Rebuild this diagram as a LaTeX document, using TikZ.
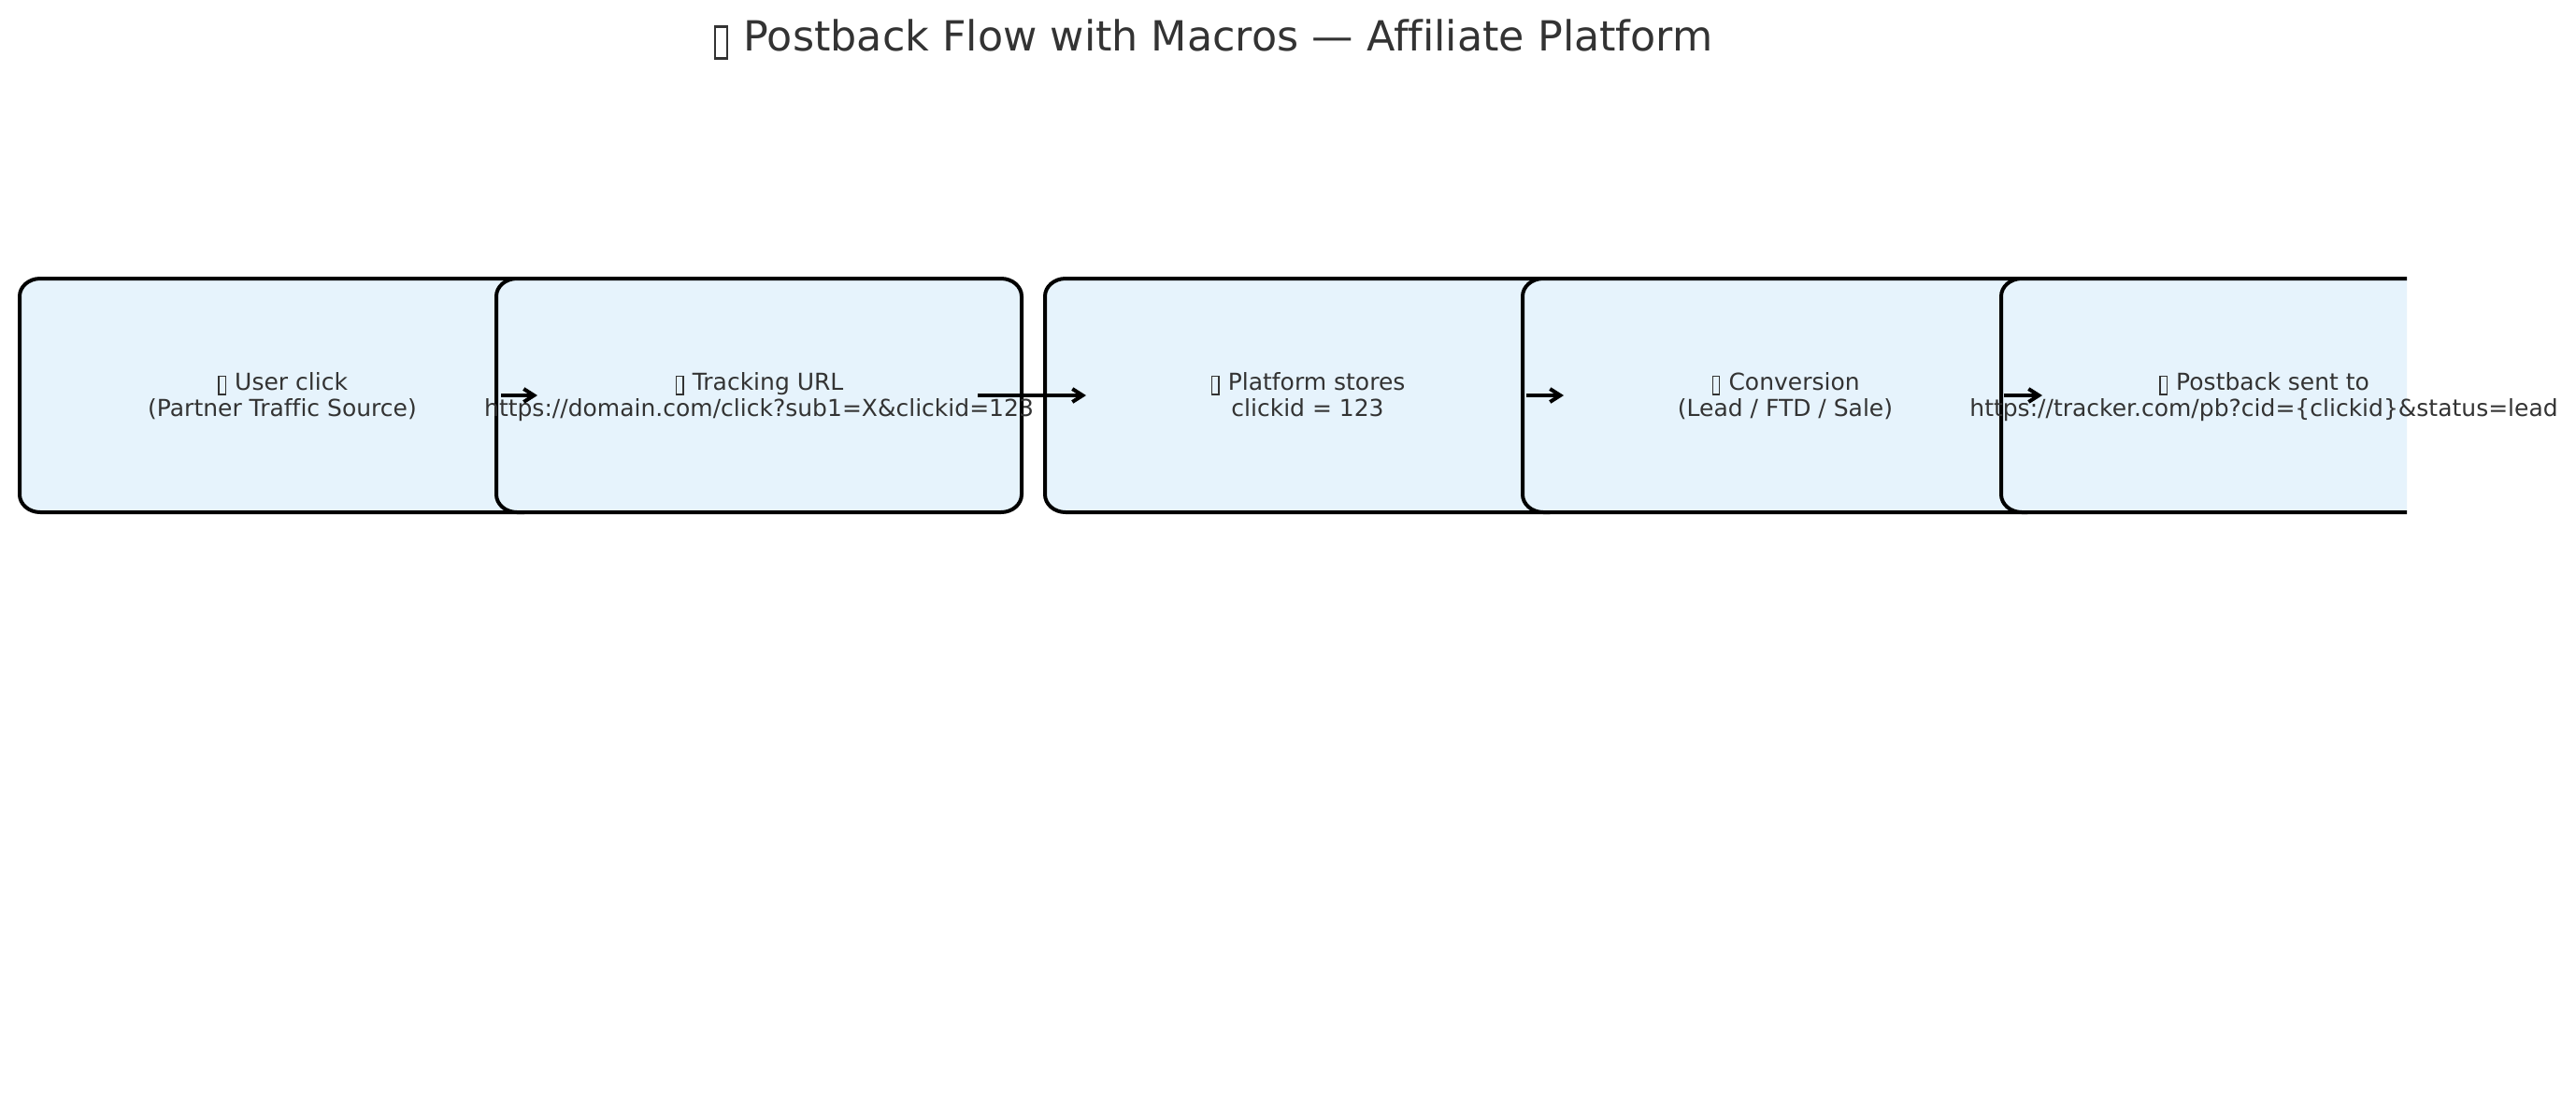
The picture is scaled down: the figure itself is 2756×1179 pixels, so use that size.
\documentclass[tikz,border=0pt]{standalone}
\usepackage{fontspec}
\setmainfont{DejaVu Sans}[Ligatures=NoCommon]
\usetikzlibrary{arrows.meta}
\definecolor{boxfill}{HTML}{E6F3FC}
\definecolor{txt}{HTML}{333333}
\newcommand{\tofu}{\kern0.05em\raisebox{-0.16em}{\setlength{\fboxsep}{0pt}\setlength{\fboxrule}{0.06em}\framebox[0.35em]{\rule{0pt}{0.71em}}}\kern0.05em}
\newcommand{\rbox}[1]{%
  \path[boxshape] ([xshift=22pt]#1.north west) -- ([xshift=-22pt]#1.north east)
    arc[start angle=90,end angle=0,x radius=22pt,y radius=19pt]
    -- ([yshift=19pt]#1.south east)
    arc[start angle=0,end angle=-90,x radius=22pt,y radius=19pt]
    -- ([xshift=22pt]#1.south west)
    arc[start angle=270,end angle=180,x radius=22pt,y radius=19pt]
    -- ([yshift=-19pt]#1.north west)
    arc[start angle=180,end angle=90,x radius=22pt,y radius=19pt] -- cycle;}
\tikzset{
  boxnode/.style={rectangle,minimum width=562pt,minimum height=250pt,inner sep=0pt,outer sep=0pt},
  boxshape/.style={draw=black,fill=boxfill,line width=4pt,line join=round},
  label text/.style={anchor=base,inner sep=0pt,align=center,text=txt,font=\fontsize{25pt}{28pt}\selectfont},
  title text/.style={anchor=base,inner sep=0pt,text=txt,font=\fontsize{44.4pt}{53pt}\selectfont},
  arr/.style={draw=black,line width=4pt,-{Straight Barb[length=11pt,width=14pt]}}
}
\begin{document}
\begin{tikzpicture}[x=1pt,y=1pt]
\fill[white] (0,0) rectangle (2756,-1179);
\useasboundingbox (0,0) rectangle (2756,-1179);

\node[title text] (title) at (1297,-54) {\tofu\ Postback Flow with Macros — Affiliate Platform};

\node[boxnode] (b1) at (302,-423) {};
\node[boxnode] (b2) at (812,-423) {};
\node[boxnode] (b3) at (1399,-423) {};
\node[boxnode] (b4) at (1910,-423) {};
\node[boxnode] (b5) at (2422,-423) {};

\rbox{b1}
\node[label text] (t1) at (302,-445) {\tofu\ User click\\(Partner Traffic Source)};
\rbox{b2}
\node[label text] (t2) at (812,-445) {\tofu\ Tracking URL\\https://domain.com/click?sub1=X\&clickid=123};
\rbox{b3}
\node[label text] (t3) at (1399,-445) {\tofu\ Platform stores\\clickid = 123};
\rbox{b4}
\node[label text] (t4) at (1910,-445) {\tofu\ Conversion\\(Lead / FTD / Sale)};
\begin{scope}
\clip (0,0) rectangle (2575,-1179);
\rbox{b5}
\end{scope}
\node[label text] (t5) at (2422,-445) {\tofu\ Postback sent to\\https://tracker.com/pb?cid=\{clickid\}\&status=lead};

\draw[arr] ([xshift=-47pt]b1.east) -- ([xshift=44pt]b2.west);
\draw[arr] ([xshift=-47pt]b2.east) -- ([xshift=44pt]b3.west);
\draw[arr] ([xshift=-47pt]b3.east) -- ([xshift=44pt]b4.west);
\draw[arr] ([xshift=-47pt]b4.east) -- ([xshift=44pt]b5.west);
\end{tikzpicture}
\end{document}
